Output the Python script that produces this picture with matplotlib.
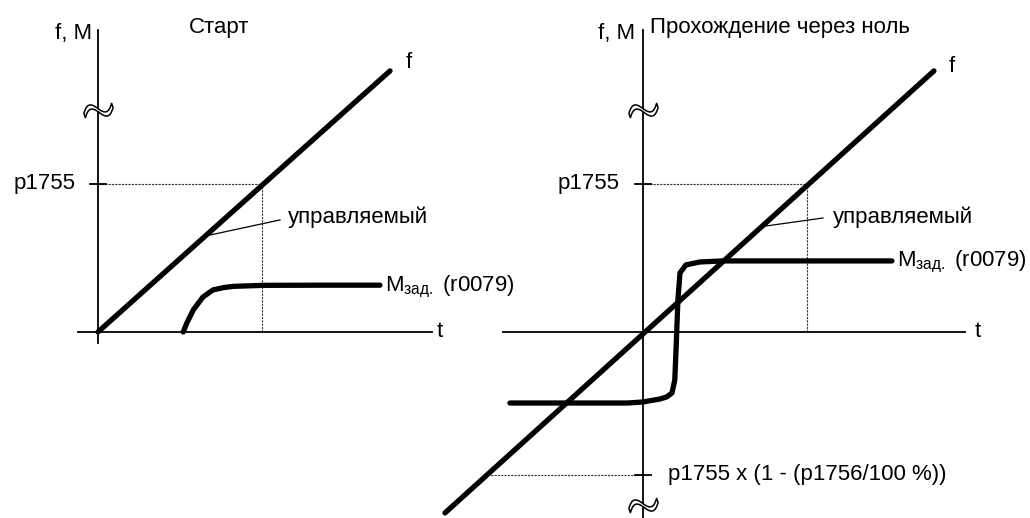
import numpy as np
import matplotlib.pyplot as plt
from matplotlib.path import Path

plt.rcParams['font.family'] = ['Liberation Sans', 'DejaVu Sans']
plt.rcParams['mathtext.fontset'] = 'custom'
plt.rcParams['mathtext.rm'] = 'Liberation Sans'
plt.rcParams['mathtext.it'] = 'Liberation Sans:italic'

# units: p1755 = 1.0 on the value axis, same scale on the time axis
P1755 = 1.0
LOW_LEVEL = -0.966          # p1755 x (1 - (p1756/100 %))

# left panel - start
start_f_t = [0.0, 1.973]
start_f = [0.0, 1.764]
start_m_t = [0.576, 0.60, 0.644, 0.709, 0.777, 0.85, 0.912, 1.115, 1.5, 1.905]
start_m = [0.0, 0.06, 0.149, 0.236, 0.284, 0.300, 0.308, 0.315, 0.316, 0.316]
start_p1755_t = 1.108

# right panel - zero crossing
zero_f_t = [-1.338, 1.966]
zero_f = [-1.223, 1.764]
zero_m_t = [-0.899, -0.10, 0.0, 0.115, 0.16, 0.196, 0.215, 0.226, 0.236, 0.25, 0.29, 0.385, 0.54, 1.682]
zero_m = [-0.480, -0.480, -0.473, -0.453, -0.439, -0.412, -0.324, -0.054, 0.216, 0.399, 0.453, 0.473, 0.480, 0.480]
zero_p1755_t = 1.108
zero_low_t = -1.077

TITLES = ['Старт', 'Прохождение через ноль']
LOWER_LABEL = 'p1755 x (1 - (p1756/100 %))'
M_LABEL = r'$\mathregular{M_{зад.}}$ (r0079)'

# axis-break marker: two parallel waves, hollow in between
wave = np.array([[-1, 0], [-0.6, 0.55], [-0.35, 0.55], [0, 0], [0.35, -0.55], [0.6, -0.55], [1, 0]])
top = wave + [0, 0.15]
bot = (wave - [0, 0.15])[::-1]
verts = np.vstack([top, bot, top[:1]])
a = np.deg2rad(20)
rot = np.array([[np.cos(a), -np.sin(a)], [np.sin(a), np.cos(a)]])
verts = verts @ rot.T
codes = [Path.MOVETO] + [Path.CURVE4] * 6 + [Path.LINETO] + [Path.CURVE4] * 6 + [Path.CLOSEPOLY]
BREAK = Path(verts, codes)

fig = plt.figure(figsize=(10.3, 5.18), dpi=100)
ax1 = fig.add_axes([0, 0, 480 / 1030, 1])
ax2 = fig.add_axes([430 / 1030, 0, 600 / 1030, 1])
ax1.set_xlim(-0.662, 2.581)
ax2.set_xlim(-1.439, 2.615)
for ax in (ax1, ax2):
    ax.set_ylim(-1.257, 2.243)
    ax.axis('off')
    ax.patch.set_alpha(0)

FS = 16
thick = dict(color='black', lw=3.8, solid_capstyle='round', solid_joinstyle='round', zorder=4)
thin = dict(color='black', lw=1.3, zorder=2)
dash = dict(color='#333333', lw=0.8, ls=(0, (2, 1)), zorder=1)


def brk(ax, y):
    ax.plot([0], [y], marker=BREAK, markersize=21, mfc='white', mec='black', mew=1.1,
            ls='none', zorder=5, clip_on=False)


# ---- left: start ----
ax = ax1
ax.plot([0, 0], [-0.074, 2.04], **thin)
ax.plot([-0.135, 2.257], [0, 0], **thin)
ax.plot([-0.054, 0.054], [P1755, P1755], **thin)
ax.plot([0, start_p1755_t], [P1755, P1755], **dash)
ax.plot([start_p1755_t, start_p1755_t], [0, P1755], **dash)
ax.plot(start_f_t, start_f, **thick)
ax.plot(start_m_t, start_m, **thick)
ax.plot([0.757, 1.23], [0.655, 0.757], color='black', lw=0.9)
brk(ax, 1.5)
ax.text(-0.04, 2.02, 'f, M', fontsize=FS, ha='right', va='center')
ax.text(0.818, 2.06, TITLES[0], fontsize=FS, ha='center', va='center')
ax.text(2.08, 1.82, 'f', fontsize=FS, ha='left', va='center')
ax.text(-0.149, P1755, 'p1755', fontsize=FS, ha='right', va='center')
ax.text(1.284, 0.777, 'управляемый', fontsize=FS, ha='left', va='center')
ax.text(1.939, 0.304, M_LABEL, fontsize=FS, ha='left', va='center')
ax.text(2.29, 0.0, 't', fontsize=FS, ha='left', va='center')

# ---- right: zero crossing ----
ax = ax2
ax.plot([0, 0], [-1.26, 2.04], **thin)
ax.plot([-0.946, 2.176], [0, 0], **thin)
ax.plot([-0.054, 0.054], [P1755, P1755], **thin)
ax.plot([-0.054, 0.054], [LOW_LEVEL, LOW_LEVEL], **thin)
ax.plot([0, zero_p1755_t], [P1755, P1755], **dash)
ax.plot([zero_p1755_t, zero_p1755_t], [0, P1755], **dash)
ax.plot([zero_low_t, 0], [LOW_LEVEL, LOW_LEVEL], **dash)
ax.plot(zero_f_t, zero_f, **thick)
ax.plot(zero_m_t, zero_m, **thick)
ax.plot([0.831, 1.216], [0.716, 0.770], color='black', lw=0.9)
brk(ax, 1.5)
brk(ax, -1.169)
ax.text(-0.054, 2.02, 'f, M', fontsize=FS, ha='right', va='center')
ax.text(0.047, 2.06, TITLES[1], fontsize=FS, ha='left', va='center')
ax.text(2.068, 1.797, 'f', fontsize=FS, ha='left', va='center')
ax.text(-0.155, P1755, 'p1755', fontsize=FS, ha='right', va='center')
ax.text(1.284, 0.777, 'управляемый', fontsize=FS, ha='left', va='center')
ax.text(1.716, 0.473, M_LABEL, fontsize=FS, ha='left', va='center')
ax.text(2.243, 0.0, 't', fontsize=FS, ha='left', va='center')
ax.text(0.169, LOW_LEVEL, LOWER_LABEL, fontsize=FS, ha='left', va='center')

fig.savefig('out.png', dpi=100)
